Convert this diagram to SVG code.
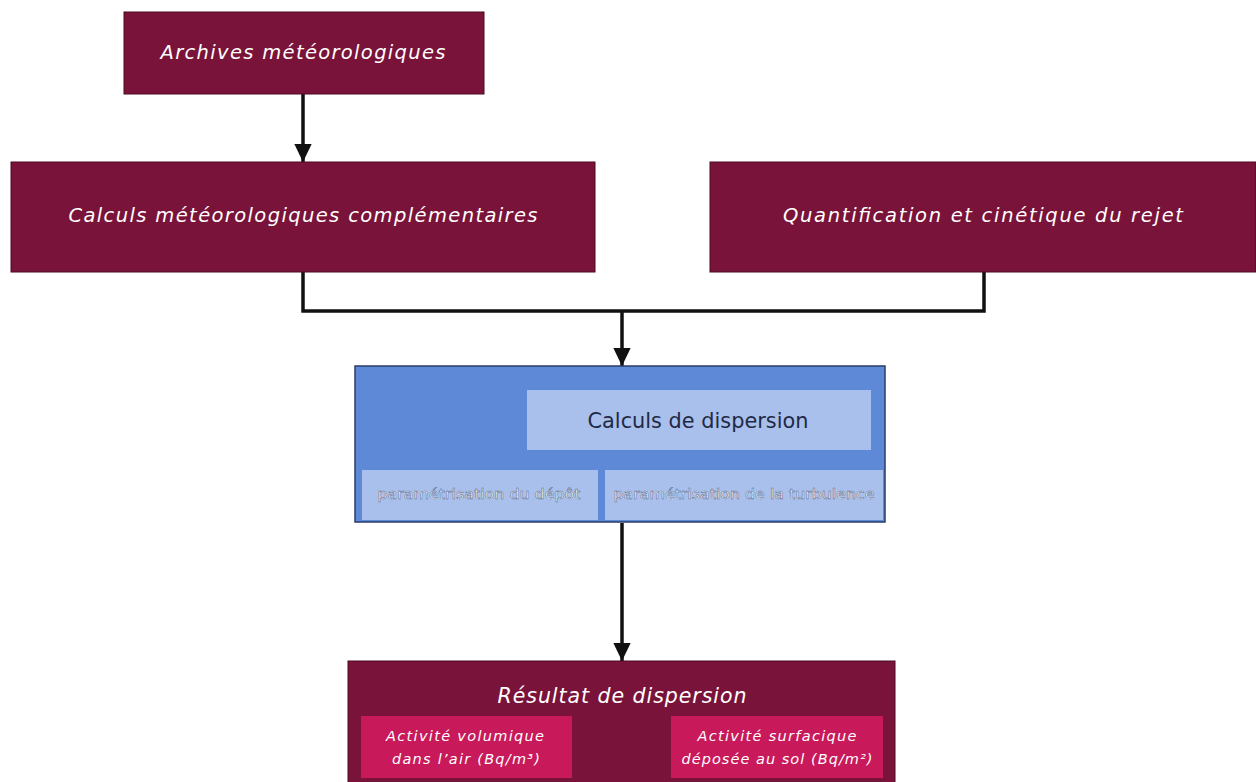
<svg xmlns="http://www.w3.org/2000/svg" width="1256" height="782" viewBox="0 0 1256 782">
<style>
.mar{fill:#7a1339;stroke:#4a0a22;stroke-width:1}
.t{font-family:"DejaVu Sans",sans-serif;font-style:italic;fill:#ffffff;text-anchor:middle}
.big{font-size:19.5px}
.sm{font-size:14.5px}
.conn{fill:none;stroke:#111;stroke-width:3.5}
.sub{fill:#a9c0ec}
.subt{font-family:"DejaVu Sans",sans-serif;font-size:13.5px;fill:#ffffff;stroke:#4f5f86;stroke-width:0.45;text-anchor:middle}
.pink{fill:#c8195a}
</style>
<defs>
<marker id="ah" markerWidth="5.2" markerHeight="5" refX="5.2" refY="2.5" orient="auto" markerUnits="strokeWidth">
<path d="M0,0 L5.2,2.5 L0,5 Z" fill="#111"/>
</marker>
</defs>
<rect width="1256" height="782" fill="#ffffff"/>
<g id="connectors">
<path class="conn" d="M303,94 V162" marker-end="url(#ah)"/>
<path class="conn" d="M303,272 V311 H984 V272"/>
<path class="conn" d="M622,311 V366" marker-end="url(#ah)"/>
<path class="conn" d="M622,523 V661" marker-end="url(#ah)"/>
</g>
<g id="archives">
<rect class="mar" x="124" y="12" width="360" height="82"/>
<text class="t big" x="303" y="59" textLength="285" lengthAdjust="spacing">Archives météorologiques</text>
</g>
<g id="calculs-meteo">
<rect class="mar" x="11" y="162" width="584" height="110"/>
<text class="t big" x="303" y="222" textLength="469" lengthAdjust="spacing">Calculs météorologiques complémentaires</text>
</g>
<g id="quantification">
<rect class="mar" x="710" y="162" width="546" height="110"/>
<text class="t big" x="983" y="222" textLength="400" lengthAdjust="spacing">Quantification et cinétique du rejet</text>
</g>
<g id="dispersion">
<rect x="355" y="366" width="530" height="156" fill="#5d89d7" stroke="#2b3c66" stroke-width="1.5"/>
<rect class="sub" x="527" y="390" width="344" height="60"/>
<text x="698" y="428" font-family="DejaVu Sans, sans-serif" font-size="20.5" fill="#1e2a45" text-anchor="middle" textLength="221" lengthAdjust="spacingAndGlyphs">Calculs de dispersion</text>
<rect class="sub" x="362" y="470" width="236" height="50"/>
<text class="subt" x="479" y="499" textLength="203" lengthAdjust="spacingAndGlyphs">paramétrisation du dépôt</text>
<rect class="sub" x="605" y="470" width="278" height="50"/>
<text class="subt" x="744" y="499" textLength="261" lengthAdjust="spacingAndGlyphs">paramétrisation de la turbulence</text>
</g>
<g id="resultat">
<rect class="mar" x="348" y="661" width="547" height="130"/>
<text class="t" x="622" y="703" font-size="20.5" textLength="249" lengthAdjust="spacing">Résultat de dispersion</text>
<rect class="pink" x="361" y="716" width="211" height="62"/>
<text class="t sm" x="465" y="741" textLength="158" lengthAdjust="spacing">Activité volumique</text>
<text class="t sm" x="466" y="764" textLength="148" lengthAdjust="spacing">dans l’air (Bq/m³)</text>
<rect class="pink" x="671" y="716" width="212" height="62"/>
<text class="t sm" x="777" y="741" textLength="159" lengthAdjust="spacing">Activité surfacique</text>
<text class="t sm" x="777" y="764" textLength="191" lengthAdjust="spacing">déposée au sol (Bq/m²)</text>
</g>
</svg>
